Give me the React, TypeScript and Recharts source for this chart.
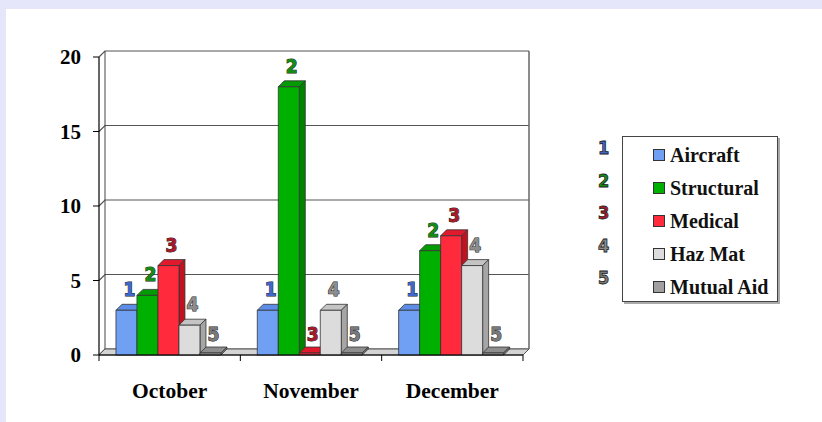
import React from "react";
import {
  Bar,
  BarChart,
  CartesianGrid,
  LabelList,
  Legend,
  ReferenceArea,
  XAxis,
  YAxis,
} from "recharts";

const months = ["October", "November", "December"];
const aircraft = [3, 3, 3];
const structural = [4, 18, 7];
const medical = [6, 0, 8];
const hazMat = [2, 3, 6];
const mutualAid = [0, 0, 0];
const yTicks = [0, 5, 10, 15, 20];

const series = [
  { key: "aircraft", name: "Aircraft", front: "#70a0f4", top: "#5d8de6", side: "#4b77cc", label: "#3f68cc" },
  { key: "structural", name: "Structural", front: "#00b000", top: "#049a04", side: "#008400", label: "#148c14" },
  { key: "medical", name: "Medical", front: "#ff2a3c", top: "#e01a2c", side: "#c0121f", label: "#a81a2a" },
  { key: "hazMat", name: "Haz Mat", front: "#dcdcdc", top: "#c4c4c4", side: "#a6a6a6", label: "#8c8c8c" },
  { key: "mutualAid", name: "Mutual Aid", front: "#a0a0a0", top: "#8e8e8e", side: "#7c7c7c", label: "#7a7a7a" },
];

const data = months.map((month, i) => ({
  month,
  aircraft: aircraft[i],
  structural: structural[i],
  medical: medical[i],
  hazMat: hazMat[i],
  mutualAid: mutualAid[i],
}));

const D = 6;
const SERIF = "'Liberation Serif', 'Times New Roman', serif";
const NUM_FONT = "'DejaVu Sans Condensed', 'DejaVu Sans', sans-serif";

const make3DBar = (s: (typeof series)[number]) => (props: any) => {
  const { x, y, width, height } = props;
  if (x == null || y == null) return <g />;
  const h = Math.max(height || 0, 2);
  const top = y + (height || 0) - h;
  const w = width;
  return (
    <g stroke="#333" strokeWidth={0.8} strokeLinejoin="round">
      <polygon
        points={`${x},${top} ${x + D},${top - D} ${x + w + D},${top - D} ${x + w},${top}`}
        fill={s.top}
      />
      <polygon
        points={`${x + w},${top} ${x + w + D},${top - D} ${x + w + D},${top + h - D} ${x + w},${top + h}`}
        fill={s.side}
      />
      <rect x={x} y={top} width={w} height={h} fill={s.front} />
    </g>
  );
};

const makeLabel = (n: number, color: string) => (props: any) => {
  const { x, y, width } = props;
  return (
    <text
      x={x + width / 2 + 3}
      y={y - 14}
      textAnchor="middle"
      fontFamily={NUM_FONT}
      fontWeight={700}
      fontSize={19}
      fill={color}
      stroke="#222"
      strokeWidth={1}
      paintOrder="stroke"
    >
      {n}
    </text>
  );
};

const Frame = (props: any) => {
  const { x, y, width, height } = props;
  const b = y + height;
  const r = x + width;
  return (
    <g fill="none">
      <polygon points={`${x},${b} ${x + D},${b - D} ${r + D},${b - D} ${r},${b}`} fill="#d4d4d4" stroke="#555" />
      <line x1={x + D} y1={y - D} x2={x + D} y2={b - D} stroke="#444" />
      <line x1={r + D} y1={y - D} x2={r + D} y2={b - D} stroke="#666" strokeWidth={1.5} />
    </g>
  );
};

const gridLine = (props: any) => {
  const { x1, y1, x2 } = props;
  return (
    <polyline
      key={`g-${y1}`}
      points={`${x1},${y1} ${x1 + D},${y1 - D} ${x2 + D},${y1 - D}`}
      fill="none"
      stroke="#555"
      strokeWidth={1.2}
    />
  );
};

const MonthTick = (props: any) => {
  const { x, y, payload, index } = props;
  const half = payload.offset ?? 0;
  return (
    <g>
      <line x1={x - half} y1={y - 6} x2={x - half} y2={y} stroke="#000" />
      {index === months.length - 1 && (
        <line x1={x + half} y1={y - 6} x2={x + half} y2={y} stroke="#000" />
      )}
      <text x={x} y={y + 37} textAnchor="middle" fontFamily={SERIF} fontWeight={700} fontSize={21.5} fill="#000">
        {payload.value}
      </text>
    </g>
  );
};

// legend drawn from the series list so the order stays as in the chart
const LegendBox = () => (
  <div style={{ position: "relative", width: 200, height: 180 }}>
    {series.map((s, i) => (
      <div
        key={s.key}
        style={{
          position: "absolute",
          left: 3,
          top: 8 + i * 32.5,
          fontFamily: NUM_FONT,
          fontWeight: 700,
          fontSize: 18,
          lineHeight: "20px",
          color: s.label,
          WebkitTextStroke: "0.8px #222",
        }}
      >
        {i + 1}
      </div>
    ))}
    <div
      style={{
        position: "absolute",
        left: 27,
        top: 6,
        width: 154,
        height: 164,
        border: "1.5px solid #444",
        boxShadow: "2px 2px 0 #aaa",
        background: "#fff",
      }}
    >
      {series.map((s, i) => (
        <div
          key={s.key}
          style={{
            position: "absolute",
            left: 30,
            top: 7 + i * 33,
            display: "flex",
            alignItems: "center",
            fontFamily: SERIF,
            fontWeight: 700,
            fontSize: 20,
            lineHeight: "22px",
            color: "#111",
            whiteSpace: "nowrap",
          }}
        >
          <span
            style={{
              display: "inline-block",
              width: 10,
              height: 10,
              background: s.front,
              border: "1px solid #333",
              marginRight: 5,
            }}
          />
          {s.name}
        </div>
      ))}
    </div>
  </div>
);

export default function App() {
  return (
    <div style={{ position: "absolute", left: 0, top: 0, width: 822, height: 422, background: "#e6e6fa" }}>
      <div style={{ position: "absolute", left: 6, top: 9, right: 0, bottom: 0, background: "#fff" }} />
      <div style={{ position: "absolute", left: 0, top: 0 }}>
        <BarChart
          width={822}
          height={422}
          data={data}
          margin={{ top: 57, right: 299, bottom: 27, left: 0 }}
          barCategoryGap="12%"
          barGap={0}
        >
          <ReferenceArea y1={0} y2={20} shape={Frame} fill="none" stroke="none" />
          <CartesianGrid vertical={false} horizontal={gridLine} />
          <XAxis
            dataKey="month"
            height={40}
            tickLine={false}
            tickSize={6}
            tickMargin={0}
            tick={MonthTick}
            axisLine={{ stroke: "#000", strokeWidth: 1.2 }}
          />
          <YAxis
            width={99}
            domain={[0, 20]}
            ticks={yTicks}
            tickSize={6}
            tickMargin={12}
            axisLine={{ stroke: "#000", strokeWidth: 1.2 }}
            tickLine={{ stroke: "#000" }}
            tick={{ fontFamily: SERIF, fontWeight: 700, fontSize: 21, fill: "#000" }}
          />
          <Legend
            layout="vertical"
            align="center"
            verticalAlign="middle"
            content={LegendBox}
            wrapperStyle={{ left: 595, top: 130, width: 200, height: 180 }}
          />
          {series.map((s, i) => (
            <Bar
              key={s.key}
              dataKey={s.key}
              name={s.name}
              fill={s.front}
              shape={make3DBar(s)}
              isAnimationActive={false}
            >
              <LabelList dataKey={s.key} content={makeLabel(i + 1, s.label)} />
            </Bar>
          ))}
        </BarChart>
      </div>
    </div>
  );
}
